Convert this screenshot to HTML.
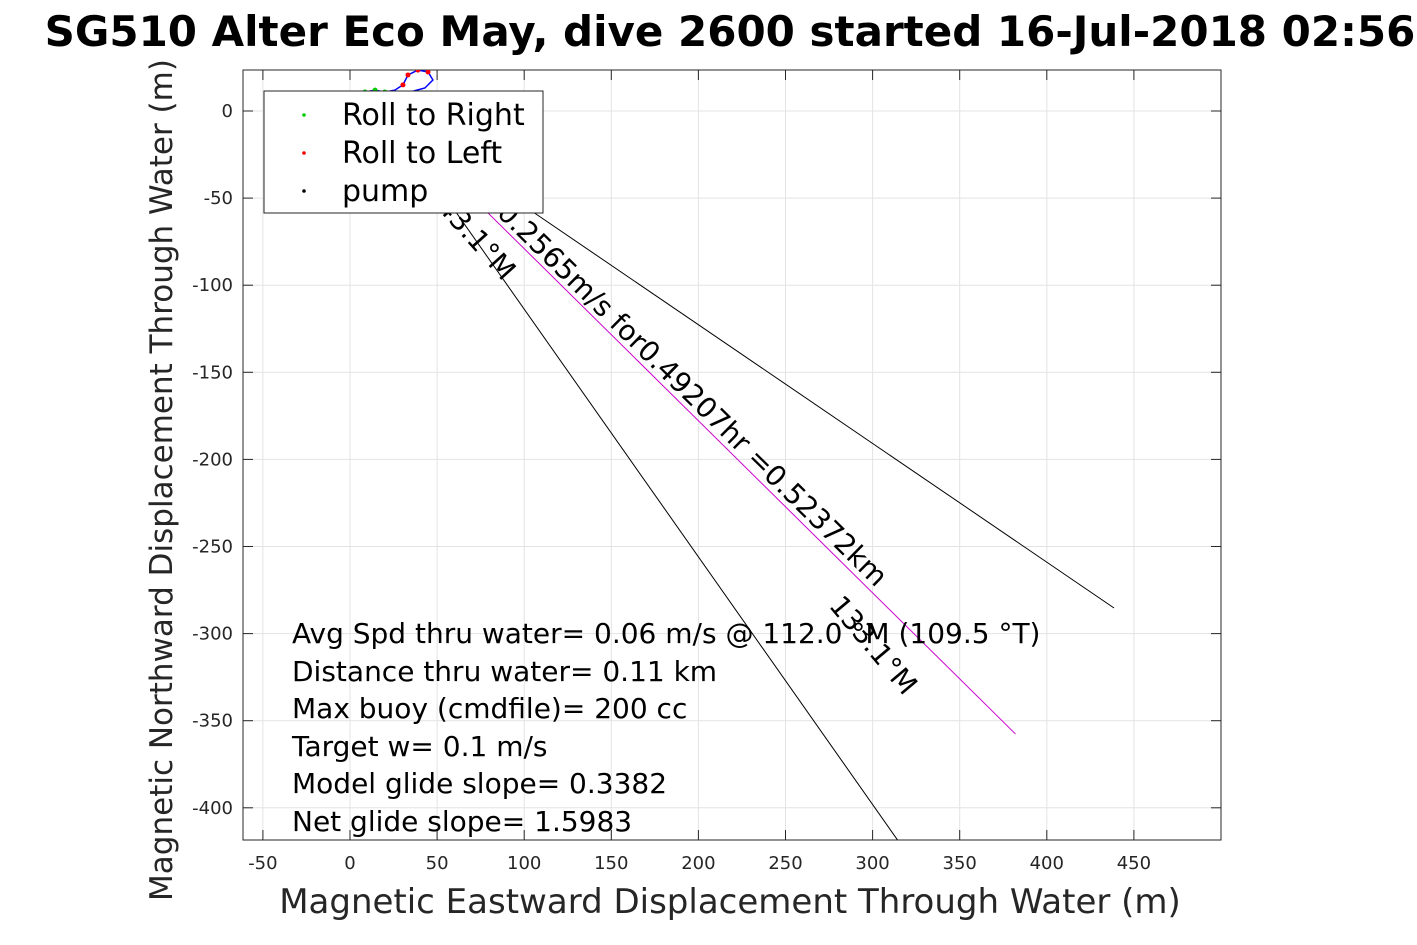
<!DOCTYPE html>
<html><head><meta charset="utf-8"><style>
body{margin:0;background:#fff;overflow:hidden;}
svg{display:block;font-family:"DejaVu Sans","Liberation Sans",sans-serif;}
</style></head><body>
<svg id="chart" width="1417" height="945" viewBox="0 0 1417 945">
<g id="grid"></g>
<rect x="243" y="70" width="978" height="770" fill="none" stroke="#262626" stroke-width="1"/>
<g id="ticks"></g>
<g id="lines"></g>
<g id="track"></g>
<text x="730" y="46" text-anchor="middle" font-size="42" font-weight="bold">SG510 Alter Eco May, dive 2600 started 16-Jul-2018 02:56</text>
<text transform="translate(172,480) rotate(-90)" text-anchor="middle" font-size="31" fill="#262626">Magnetic Northward Displacement Through Water (m)</text>
<text x="730" y="913" text-anchor="middle" font-size="34" fill="#262626">Magnetic Eastward Displacement Through Water (m)</text>
<text transform="translate(876,588) rotate(44.5)" text-anchor="end" font-size="28">Avg 0.2565m/s for0.49207hr =0.52372km</text>
<text transform="translate(503,282) rotate(48)" text-anchor="end" font-size="28">143.1°M</text>
<text transform="translate(828,606) rotate(50)" font-size="28">133.1°M</text>
<g font-size="28" xml:space="preserve">
<text x="292" y="643">Avg Spd thru water=  0.06 m/s @ 112.0 °M (109.5 °T)</text>
<text x="292" y="681">Distance thru water=  0.11 km</text>
<text x="292" y="718">Max buoy (cmdfile)= 200 cc</text>
<text x="292" y="756">Target w= 0.1 m/s</text>
<text x="292" y="793">Model glide slope= 0.3382</text>
<text x="292" y="831">Net glide slope= 1.5983</text>
</g>
<g>
<rect x="264" y="91" width="279" height="122" fill="#fff" stroke="#262626"/>
<circle cx="304" cy="115" r="1.8" fill="#0c0"/>
<text x="342" y="125" font-size="30">Roll to Right</text>
<circle cx="304" cy="153" r="1.8" fill="red"/>
<text x="342" y="163" font-size="30">Roll to Left</text>
<circle cx="304" cy="191" r="1.8" fill="#000"/>
<text x="342" y="201" font-size="30">pump</text>
</g>
</svg>
<script>
const xTicks=[-50,0,50,100,150,200,250,300,350,400,450];
const yTicks=[0,-50,-100,-150,-200,-250,-300,-350,-400];
const lineStart=[20,0];
const lineEndsX=[438.6,382,340];
const lineEndsY=[-285.3,-357.6,-455];
const lineColors=["#000","#c0c","#000"];
const trackX=[8.6,14.4,20,25.8,30.4,33.3,39,44.8,47.6,43,34.4,25.8];
const trackY=[10.9,12,10.9,12,15,20.7,23.5,22.4,17.8,13.2,10.9,10.3];
const trackRoll=["g","g","g","b","r","r","r","r","b","b","b","b"];
const NS="http://www.w3.org/2000/svg";
const sx=v=>350+v*1.742, sy=v=>111-v*1.742;
function mk(t,a,p){const e=document.createElementNS(NS,t);for(const k in a)e.setAttribute(k,a[k]);p.appendChild(e);return e;}
const grid=document.getElementById('grid'),ticks=document.getElementById('ticks');
xTicks.forEach(v=>{
 const l=mk('line',{x1:sx(v),x2:sx(v),y1:70,y2:840,stroke:'#e3e3e3'},grid);
 
 
 const t=mk('text',{x:sx(v),y:869,'text-anchor':'middle','font-size':18,fill:'#262626'},ticks);
 t.textContent=v;
 
 
 mk('line',{x1:sx(v),x2:sx(v),y1:840,y2:830,stroke:'#262626'},ticks);
 mk('line',{x1:sx(v),x2:sx(v),y1:70,y2:80,stroke:'#262626'},ticks);
});
yTicks.forEach(v=>{
 const l=mk('line',{x1:243,x2:1221,y1:sy(v),y2:sy(v),stroke:'#e3e3e3'},grid);
 
 
 const t=mk('text',{x:233,y:sy(v)+6,'text-anchor':'end','font-size':18,fill:'#262626'},ticks);
 t.textContent=v;
 
 
 mk('line',{x1:243,x2:253,y1:sy(v),y2:sy(v),stroke:'#262626'},ticks);
 mk('line',{x1:1221,x2:1211,y1:sy(v),y2:sy(v),stroke:'#262626'},ticks);
});
const lg=document.getElementById('lines');
const clip=mk('clipPath',{id:'pc'},document.getElementById('chart'));
mk('rect',{x:243,y:70,width:978,height:770},clip);
lg.setAttribute('clip-path','url(#pc)');
lineEndsX.forEach((x,i)=>{
 const l=mk('line',{x1:sx(lineStart[0]),y1:sy(lineStart[1]),x2:sx(x),y2:sy(lineEndsY[i]),stroke:lineColors[i],'stroke-width':1},lg);
 
 
});
const tg=document.getElementById('track');
tg.setAttribute('clip-path','url(#pc)');
const p=mk('polyline',{points:trackX.map((x,i)=>sx(x)+','+sy(trackY[i])).join(' '),fill:'none',stroke:'#00f','stroke-width':1.5},tg);


trackX.forEach((x,i)=>{
 if(trackRoll[i]==='b')return;
 const c=mk('circle',{cx:sx(x),cy:sy(trackY[i]),r:2.5,fill:trackRoll[i]==='g'?'#0c0':'red'},tg);
 
 
});
</script>
</body></html>
